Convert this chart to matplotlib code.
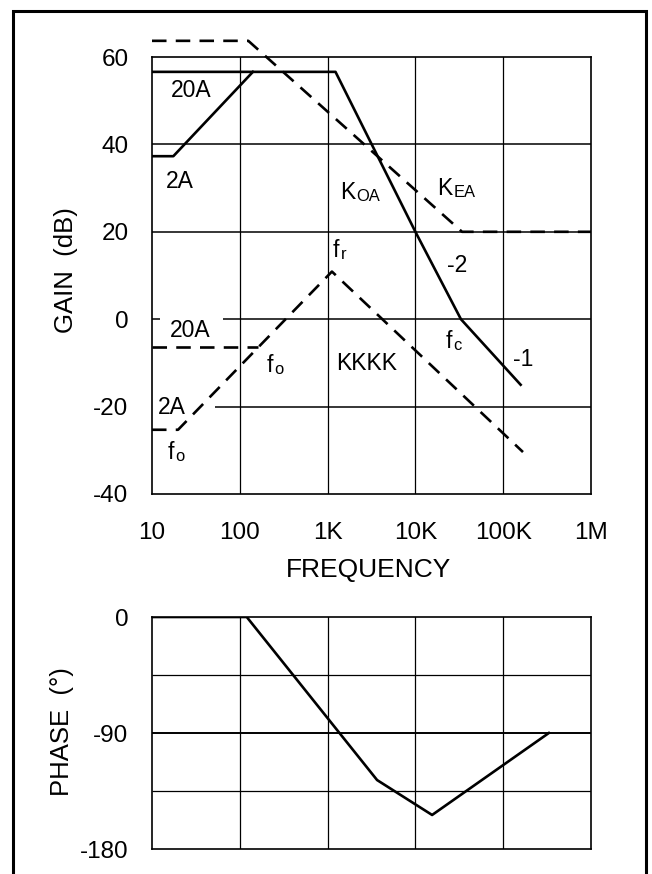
import numpy as np
import matplotlib
matplotlib.use('Agg')
import matplotlib.pyplot as plt
from matplotlib.patches import Rectangle

plt.rcParams['font.family'] = ['Liberation Sans', 'DejaVu Sans']
plt.rcParams['axes.unicode_minus'] = False

# gain curves (frequency in Hz, gain in dB)
koa_f = [10, 1230, 10000, 33000, 158000]
koa_db = [56.6, 56.6, 20, 0, -15.0]
koa2_f = [10, 17.5, 141]
koa2_db = [37.3, 37.3, 56.6]
kea_f = [10, 125, 34000, 1e6]
kea_db = [63.7, 63.7, 20, 20]
k_f = [10, 19.8, 1120, 168000]
k_db = [-25.3, -25.3, 10.9, -30.4]
k20_f = [10, 162]
k20_db = [-6.3, -6.3]

# phase curve
ph_f = [10, 120, 3660, 15500, 331000]
ph_deg = [0, 0, -126.5, -153.6, -90]

freq_ticks = [10, 100, 1e3, 1e4, 1e5, 1e6]
freq_labels = ['10', '100', '1K', '10K', '100K', '1M']
gain_ticks = [60, 40, 20, 0, -20, -40]
phase_ticks = [0, -90, -180]

W, H = 652, 874
fig = plt.figure(figsize=(W / 100, H / 100), dpi=100)

# outer frame
fig.patches.append(Rectangle((13 / W, -0.05), (646 - 13) / W, 0.05 + 1 - 11 / H,
                             transform=fig.transFigure, fill=False, lw=2.2,
                             ec='black', clip_on=False))

dash = (0, (5.5, 3.5))
lw = 1.9
fs = 16.5


def label(ax, lf, db, main, sub=None, ha='center'):
    t = ax.text(10 ** lf, db, main, fontsize=fs, ha=ha, va='center')
    if sub:
        ax.annotate(sub, xy=(1, 0), xycoords=t, fontsize=fs * 0.72,
                    ha='left', va='bottom', xytext=(0.8, 0),
                    textcoords='offset points')


ax = fig.add_axes([152 / W, 1 - 494 / H, 439 / W, 437 / H])
ax.set_xscale('log')
ax.set_xlim(10, 1e6)
ax.set_ylim(-40, 60)

# grid
for f in freq_ticks[1:-1]:
    ax.axvline(f, color='black', lw=0.9, zorder=1)
ax.hlines([40, 20], 10, 1e6, color='black', lw=1.1, zorder=1)
ax.hlines([0], 10 ** 1.81, 1e6, color='black', lw=1.1, zorder=1)
ax.hlines([0], 10, 10 ** 1.09, color='black', lw=1.1, zorder=1)
ax.hlines([-20], 10 ** 1.72, 1e6, color='black', lw=1.1, zorder=1)

ax.plot(koa_f, koa_db, color='black', lw=lw, zorder=3)
ax.plot(koa2_f, koa2_db, color='black', lw=lw, zorder=3)
ax.plot(kea_f, kea_db, color='black', lw=lw, ls=dash, zorder=3, clip_on=False)
ax.plot(k_f, k_db, color='black', lw=lw, ls=dash, zorder=3)
ax.plot(k20_f, k20_db, color='black', lw=lw, ls=dash, zorder=3)

ax.set_xticks(freq_ticks)
ax.set_xticklabels(freq_labels)
ax.minorticks_off()
ax.set_yticks(gain_ticks)
ax.tick_params(length=0, labelsize=17.5, pad=17)
ax.tick_params(axis='x', pad=20)
for s in ax.spines.values():
    s.set_linewidth(1.2)

label(ax, 1.444, 52.4, '20A')
label(ax, 1.319, 31.6, '2A')
label(ax, 3.14, 29.1, 'K', 'OA', ha='left')
label(ax, 4.25, 29.8, 'K', 'EA', ha='left')
label(ax, 3.06, 15.7, 'f', 'r', ha='left')
label(ax, 4.47, 12.2, '-2')
label(ax, 4.34, -5.2, 'f', 'c', ha='left')
label(ax, 5.23, -9.3, '-1')
label(ax, 1.433, -2.7, '20A')
label(ax, 2.31, -10.7, 'f', 'o', ha='left')
label(ax, 3.44, -10.2, 'KKKK')
label(ax, 1.23, -20.3, '2A')
label(ax, 1.18, -30.6, 'f', 'o', ha='left')

fig.text(66 / W, 1 - 270 / H, 'GAIN  (dB)', rotation=90, fontsize=18.5,
         ha='center', va='center')
fig.text(368 / W, 1 - 570 / H, 'FREQUENCY', fontsize=19, ha='center', va='center')

# phase plot
ax2 = fig.add_axes([152 / W, 1 - 849 / H, 439 / W, 232 / H])
ax2.set_xscale('log')
ax2.set_xlim(10, 1e6)
ax2.set_ylim(-180, 0)
for f in freq_ticks[1:-1]:
    ax2.axvline(f, color='black', lw=0.9, zorder=1)
ax2.hlines([-45, -90, -135], 10, 1e6, color='black', lw=[0.9, 1.4, 0.9], zorder=1)
ax2.plot(ph_f, ph_deg, color='black', lw=lw, zorder=3)
ax2.set_xticks([])
ax2.minorticks_off()
ax2.set_yticks(phase_ticks)
ax2.tick_params(length=0, labelsize=17.5, pad=17)
for s in ax2.spines.values():
    s.set_linewidth(1.2)

fig.text(62 / W, 1 - 732 / H, 'PHASE  (°)', rotation=90, fontsize=18.5,
         ha='center', va='center')

fig.savefig('out.png', dpi=100)
